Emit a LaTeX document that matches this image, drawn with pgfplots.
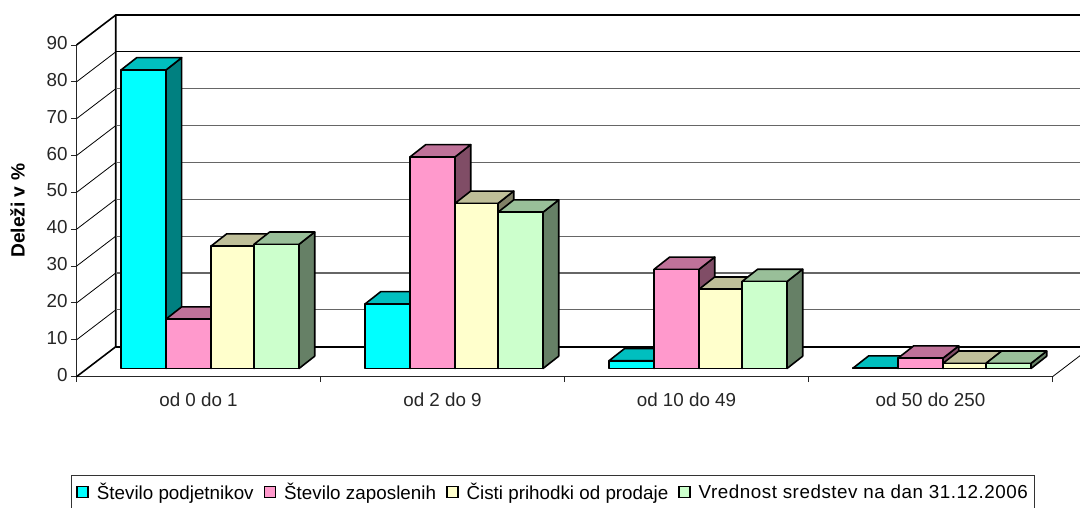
\documentclass[border=0pt]{standalone}
\usepackage{pgfplots}
\pgfplotsset{compat=1.18}
\usepackage{fontspec}
\setmainfont{Liberation Sans}
\definecolor{cyanF}{HTML}{00FFFF}\definecolor{cyanT}{HTML}{00BFBF}\definecolor{cyanS}{HTML}{008080}
\definecolor{pinkF}{HTML}{FF99CC}\definecolor{pinkT}{HTML}{BF7299}\definecolor{pinkS}{HTML}{804D66}
\definecolor{yellF}{HTML}{FFFFCC}\definecolor{yellT}{HTML}{BFBF99}\definecolor{yellS}{HTML}{808066}
\definecolor{greeF}{HTML}{CCFFCC}\definecolor{greeT}{HTML}{99BF99}\definecolor{greeS}{HTML}{668066}

% one 3D column: left edge, right edge, value, colour prefix
\newcommand{\column}[4]{%
  \pgfmathsetmacro{\xa}{#1}\pgfmathsetmacro{\xb}{#2}%
  \pgfmathsetmacro{\xc}{#1+15.7}\pgfmathsetmacro{\xd}{#2+15.7}%
  \pgfmathsetmacro{\yl}{2.225}\pgfmathsetmacro{\yh}{#3+2.225}%
  \pgfmathsetmacro{\yk}{2.225+3.34}\pgfmathsetmacro{\ym}{#3+2.225+3.34}%
  \edef\temp{%
    \noexpand\addplot[fill=#4S,barline] coordinates {(\xb,\yl) (\xd,\yk) (\xd,\ym) (\xb,\yh)} --cycle;
    \noexpand\addplot[fill=#4T,barline] coordinates {(\xa,\yh) (\xb,\yh) (\xd,\ym) (\xc,\ym)} --cycle;
    \noexpand\addplot[fill=#4F,barline] coordinates {(\xa,\yl) (\xb,\yl) (\xb,\yh) (\xa,\yh)} --cycle;
  }\temp}
% group of four columns: left offset, then the four values
\newcommand{\group}[5]{%
  \pgfmathsetmacro{\ga}{#1+44.5}\pgfmathsetmacro{\gb}{#1+89.5}\pgfmathsetmacro{\gc}{#1+134.5}%
  \pgfmathsetmacro{\gd}{#1+177.5}\pgfmathsetmacro{\ge}{#1+222.5}%
  \edef\gtemp{%
    \noexpand\column{\ga}{\gb}{#2}{cyan}%
    \noexpand\column{\gb}{\gc}{#3}{pink}%
    \noexpand\column{\gc}{\gd}{#4}{yell}%
    \noexpand\column{\gd}{\ge}{#5}{gree}%
  }\gtemp}
% grid line on side wall and back wall
\newcommand{\wall}[2]{%
  \pgfmathsetmacro{\yb}{#1+8.14}%
  \edef\temp{%
    \noexpand\addplot[black,line width=0.8pt] coordinates {(0,#1) (39.3,\yb)};
    \noexpand\addplot[#2] coordinates {(39.3,\yb) (1015.3,\yb)};
  }\temp}
\newcommand{\lstrut}{\rule[-9pt]{0pt}{9pt}}

\begin{document}
\begin{tikzpicture}
\path[use as bounding box,clip] (-76.5pt,-130.3pt) rectangle (1003.5pt,376.7pt);
\begin{axis}[
  scale only axis,
  width=976pt, height=331.7pt,
  xmin=0, xmax=976, ymin=0, ymax=90,
  clip=false,
  axis x line*=bottom, axis y line*=left,
  axis line style={-, line width=1pt, black!85},
  tick align=outside,
  major tick length=5.5pt,
  tick style={black!85, line width=1pt},
  ytick={0,10,...,90},
  xtick={0,244,488,732,976},
  xticklabels={},
  extra x ticks={122,366,610,854},
  extra x tick labels={od 0 do 1, od 2 do 9, od 10 do 49, od 50 do 250},
  extra x tick style={major tick length=0pt, tick label style={yshift=-13pt}},
  tick label style={font=\fontsize{18.8pt}{22pt}\selectfont, text=black!85},
  y tick label style={yshift=2pt},
  /pgf/number format/assume math mode=true,
  ylabel={\textbf{Deleži v \%}},
  ylabel style={font=\fontsize{19.2pt}{22pt}\selectfont, at={(axis description cs:-0.0605,0.5)}, anchor=center},
  barline/.style={draw=black, line width=1.6pt, line join=round, forget plot},
  every axis plot/.append style={forget plot},
  legend columns=4,
  legend cell align=left,
  legend style={at={(axis description cs:-0.00564,-0.2964)}, anchor=north west,
    draw=black!80, line width=1pt, font=\fontsize{18.8pt}{22pt}\selectfont,
    inner xsep=5pt, inner ysep=6pt,
    /tikz/every even column/.append style={column sep=8pt},
    /tikz/every odd column/.append style={column sep=6pt}},
  legend image code/.code={\draw[#1,draw=black,line width=1.4pt] (0pt,-5pt) rectangle (11pt,6pt);},
]
% back wall frame
\addplot[black,line width=1.6pt] coordinates {(0,90) (39.3,98.14) (1015.3,98.14)};
\addplot[black,line width=1.6pt] coordinates {(0,0) (39.3,8.14) (39.3,98.14)};
\addplot[black,line width=1.8pt] coordinates {(39.3,8.14) (1015.3,8.14)};
\addplot[black,line width=0.8pt] coordinates {(976,0) (1015.3,8.14)};
\wall{80}{black,line width=1pt}
\wall{70}{black!60,line width=1.2pt}
\wall{60}{black!60,line width=1.2pt}
\wall{50}{black!60,line width=1.2pt}
\wall{40}{black!60,line width=1.2pt}
\wall{30}{black!60,line width=1.2pt}
\wall{20}{black!60,line width=1.2pt}
\wall{10}{black!60,line width=1.2pt}
% columns
\group{0}{81.0}{13.4}{33.2}{33.7}
\group{244}{17.5}{57.4}{44.8}{42.4}
\group{488}{2.1}{26.9}{21.5}{23.6}
\group{732}{0.1}{2.8}{1.4}{1.4}
\addlegendimage{fill=cyanF}\addlegendentry{\lstrut Število podjetnikov}
\addlegendimage{fill=pinkF}\addlegendentry{\lstrut\addfontfeature{LetterSpace=0.2}Število zaposlenih}
\addlegendimage{fill=yellF}\addlegendentry{\lstrut Čisti prihodki od prodaje}
\addlegendimage{fill=greeF}\addlegendentry{\lstrut\addfontfeature{LetterSpace=2.9}Vrednost sredstev na dan 31.12.2006}
\end{axis}
\end{tikzpicture}
\end{document}
